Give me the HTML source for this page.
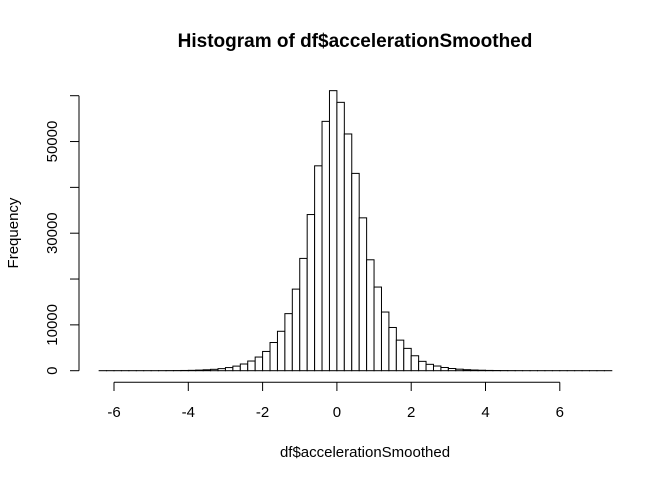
<!DOCTYPE html>
<html><head><meta charset="utf-8"><style>
body{margin:0;background:#fff}
svg text{font-family:"Liberation Sans",sans-serif;fill:#000}
</style></head><body>
<svg id="chart" width="672" height="480" xmlns="http://www.w3.org/2000/svg">
<text x="355" y="47" text-anchor="middle" font-size="19" font-weight="bold">Histogram of df$accelerationSmoothed</text>
<text x="365" y="457" text-anchor="middle" font-size="15">df$accelerationSmoothed</text>
<text transform="translate(18,233) rotate(-90)" text-anchor="middle" font-size="15">Frequency</text>
<g id="bars"></g><g id="axes"></g>
</svg>
<script>
const binStart = -6.4;
const binWidth = 0.2;
const counts = [5,5,5,5,5,5,5,5,10,20,30,50,80,130,200,300,450,680,1000,
1460,2110,2980,4200,6150,8600,12450,17800,24500,34070,44700,54400,61100,58550,51650,43050,33350,24200,18250,12800,9430,6670,4870,3260,2040,1390,1020,
700,480,330,220,150,100,60,40,25,15,10,5,5,5,5,5,5,5,5,5,5,5,5];
const xTicks = [-6,-4,-2,0,2,4,6];
const yTicks = [0,10000,20000,30000,40000,50000,60000];
const yLabels = ["0","10000","","30000","","50000",""];
const NS="http://www.w3.org/2000/svg";
const sx = v => 336.9 + v*37.15;
const sy = v => 370.7 - v*(275/60000);
const bars=document.getElementById('bars'), axes=document.getElementById('axes');
function mk(tag,attrs,parent){const e=document.createElementNS(NS,tag);for(const k in attrs)e.setAttribute(k,attrs[k]);parent.appendChild(e);return e;}
counts.forEach((c,i)=>{
  const x0=sx(binStart+i*binWidth), x1=sx(binStart+(i+1)*binWidth);
  const r=mk('rect',{x:x0,y:sy(c),width:x1-x0,height:sy(0)-sy(c),fill:'#fff',stroke:'#000','stroke-width':1},bars);
  
  
});
const xa=mk('line',{x1:sx(xTicks[0]),x2:sx(xTicks[xTicks.length-1]),y1:382.3,y2:382.3,stroke:'#000'},axes);


xTicks.forEach(t=>{
  mk('line',{x1:sx(t),x2:sx(t),y1:382.3,y2:391,stroke:'#000'},axes);
  const tx=mk('text',{x:sx(t),y:417,'text-anchor':'middle','font-size':15},axes);
  tx.textContent=String(t);
  
  
});
const ya=mk('line',{x1:79,x2:79,y1:sy(yTicks[0]),y2:sy(yTicks[yTicks.length-1]),stroke:'#000'},axes);


yTicks.forEach((t,i)=>{
  mk('line',{x1:70,x2:79,y1:sy(t),y2:sy(t),stroke:'#000'},axes);
  if(yLabels[i]){
    const tx=mk('text',{transform:`translate(57,${sy(t)}) rotate(-90)`,'text-anchor':'middle','font-size':15},axes);
    tx.textContent=yLabels[i];
    
    
  }
});
</script>
</body></html>
